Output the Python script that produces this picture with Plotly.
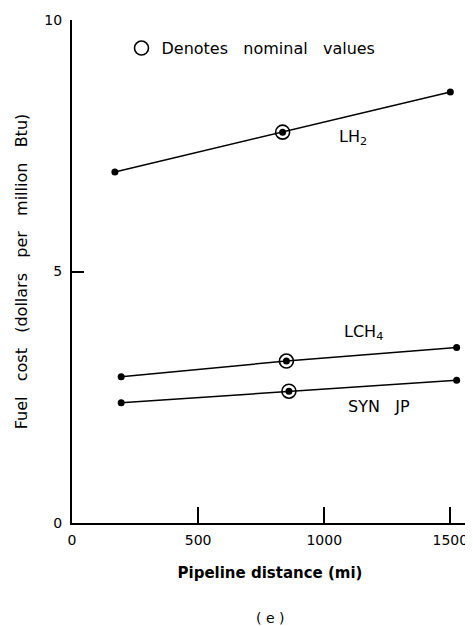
import plotly.graph_objects as go

# Data
lh2_x = [170, 835, 1500]
lh2_y = [6.98, 7.77, 8.57]
lch4_x = [195, 850, 1525]
lch4_y = [2.91, 3.22, 3.49]
synjp_x = [195, 860, 1525]
synjp_y = [2.39, 2.62, 2.84]
nominal_idx = 1

NB = "\u00a0"
series_names = ["LH<sub>2</sub>", "LCH<sub>4</sub>", "SYN" + NB * 3 + "JP"]
label_pos_x = [1113, 1155, 1218]
label_pos_y = [7.67, 3.78, 2.31]

x_ticks = [0, 500, 1000, 1500]
y_ticks = [0, 5, 10]

FONT = "DejaVu Sans"

fig = go.Figure()
for xs, ys in [(lh2_x, lh2_y), (lch4_x, lch4_y), (synjp_x, synjp_y)]:
    fig.add_trace(go.Scatter(
        x=xs, y=ys, mode="lines+markers",
        line=dict(color="black", width=1.5),
        marker=dict(color="black", size=7),
        showlegend=False, hoverinfo="skip"))

fig.add_trace(go.Scatter(
    x=[lh2_x[nominal_idx], lch4_x[nominal_idx], synjp_x[nominal_idx]],
    y=[lh2_y[nominal_idx], lch4_y[nominal_idx], synjp_y[nominal_idx]],
    mode="markers", name="Denotes" + NB * 3 + "nominal" + NB * 3 + "values",
    marker=dict(symbol="circle-open", size=14, color="black", line=dict(width=1.6)),
    showlegend=True, hoverinfo="skip"))

for name, lx, ly in zip(series_names, label_pos_x, label_pos_y):
    fig.add_annotation(x=lx, y=ly, text=name, showarrow=False,
                       font=dict(family=FONT, size=16, color="black"))

fig.add_annotation(x=0.5, y=-0.189, xref="paper", yref="paper", text="( e )",
                   yanchor="middle", xanchor="center",
                   showarrow=False, font=dict(family=FONT, size=14, color="black"))

ytitle = (NB * 3).join(["Fuel", "cost", "(dollars", "per", "million", "Btu)"])

fig.update_layout(
    width=465, height=618,
    margin=dict(l=64, r=5, t=12, b=103, autoexpand=False),
    paper_bgcolor="white", plot_bgcolor="white",
    font=dict(family=FONT, size=14, color="black"),
    legend=dict(x=0.125, y=0.944, yanchor="middle", xanchor="left",
                bgcolor="rgba(0,0,0,0)", font=dict(family=FONT, size=16)),
    xaxis=dict(range=[0, 1570], tickvals=x_ticks, ticktext=[str(v) for v in x_ticks],
               ticks="inside", ticklen=16, tickwidth=1.5, tickcolor="black",
               showline=True, linecolor="black", linewidth=2,
               showgrid=False, zeroline=False, automargin=False,
               tickfont=dict(family=FONT, size=14), ticklabelstandoff=3,
               title=dict(text="<b>Pipeline distance (mi)</b>", standoff=21,
                          font=dict(family=FONT, size=15))),
    yaxis=dict(range=[0, 10], tickvals=y_ticks, ticktext=[str(v) for v in y_ticks],
               ticks="inside", ticklen=12, tickwidth=1.5, tickcolor="black",
               showline=True, linecolor="black", linewidth=2,
               showgrid=False, zeroline=False, automargin=False,
               tickfont=dict(family=FONT, size=14), ticklabelstandoff=5,
               title=dict(text=ytitle, standoff=13,
                          font=dict(family=FONT, size=16))),
)

fig.write_html("out.html")
